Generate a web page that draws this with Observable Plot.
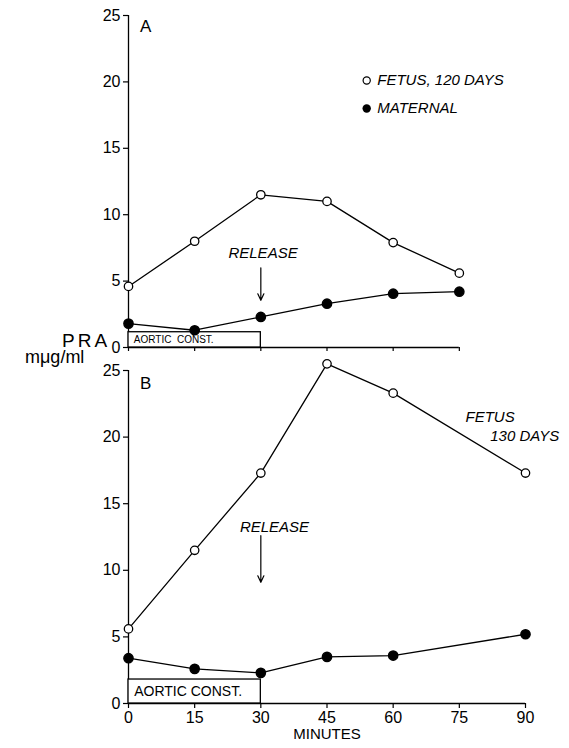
<!DOCTYPE html>
<html>
<head>
<meta charset="utf-8">
<script src="https://cdn.jsdelivr.net/npm/d3@7"></script>
<script src="https://cdn.jsdelivr.net/npm/@observablehq/plot@0.6"></script>
<style>
  body { margin: 0; background: white; }
  #wrap { position: relative; width: 569px; height: 748px; overflow: hidden; }
  #wrap svg { display: block; }
  .lab { position: absolute; font-family: "Liberation Sans", Arial, sans-serif; color: black; white-space: nowrap; line-height: 1; }
</style>
</head>
<body>
<div id="wrap"></div>
<script>
// ---- data ----
const minutesA = [0, 15, 30, 45, 60, 75];
const fetus120 = [4.6, 8.0, 11.5, 11.0, 7.9, 5.6];
const maternalA = [1.8, 1.3, 2.3, 3.3, 4.05, 4.2];

const minutesB = [0, 15, 30, 45, 60, 90];
const fetus130 = [5.6, 11.5, 17.3, 25.5, 23.3, 17.3];
const maternalB = [3.4, 2.6, 2.3, 3.5, 3.6, 5.2];

const yTicks = [0, 5, 10, 15, 20, 25];
const xTicksA = [0, 15, 30, 45, 60, 75];
const xTicksB = [0, 15, 30, 45, 60, 75, 90];

const aorticStart = 0, aorticEnd = 30;   // minutes of aortic constriction
const releaseAt = 30;                    // release time, minutes

const FONT = '"Liberation Sans", Arial, sans-serif';
const W = 569;

function pts(xs, ys) { return xs.map((m, i) => ({ m, v: ys[i] })); }

function seriesMarks(xs, open, filled) {
  return [
    Plot.line(pts(xs, open), { x: "m", y: "v", stroke: "black", strokeWidth: 1.3 }),
    Plot.line(pts(xs, filled), { x: "m", y: "v", stroke: "black", strokeWidth: 1.3 }),
    Plot.dot(pts(xs, open), { x: "m", y: "v", r: 4.2, fill: "white", stroke: "black", strokeWidth: 1.3 }),
    Plot.dot(pts(xs, filled), { x: "m", y: "v", r: 4.6, fill: "black", stroke: "black" })
  ];
}

// ---- Panel A ----
const A = Plot.plot({
  width: W, height: 360,
  marginLeft: 128, marginRight: 44, marginTop: 15, marginBottom: 13,
  x: { domain: [0, 90] },
  y: { domain: [0, 25] },
  style: { fontFamily: FONT, fontSize: "16px", color: "black", background: "white", overflow: "visible" },
  marks: [
    Plot.ruleX([0], { y1: 0, y2: 25, stroke: "black", strokeWidth: 1.3 }),
    Plot.ruleY([0], { x1: 0, x2: 75, stroke: "black", strokeWidth: 1.3 }),
    Plot.axisY(yTicks, { tickSize: 5, tickPadding: 3, strokeWidth: 1.2, label: null }),
    Plot.axisX(xTicksA, { tickSize: 4, tickFormat: () => "", strokeWidth: 1.2, label: null }),
    Plot.rect([0], { x1: aorticStart, x2: aorticEnd, y1: 0, y2: 1.15, fill: "white", stroke: "black", strokeWidth: 1.3 }),
    Plot.text(["AORTIC  CONST."], { x: 1.2, y: 0.55, textAnchor: "start", fontSize: 10 }),
    Plot.text(["RELEASE"], { x: releaseAt + 0.5, y: 7.1, fontStyle: "italic", fontSize: 15, letterSpacing: "1.5px" }),
    Plot.arrow([0], { x1: releaseAt, x2: releaseAt, y1: 6.0, y2: 3.55, stroke: "black", strokeWidth: 1.2, headLength: 9, headAngle: 50 }),
    Plot.text(["A"], { x: 3.9, y: 24.2, fontSize: 17 }),
    Plot.dot([0], { x: 54, y: 20.1, r: 3.6, fill: "white", stroke: "black", strokeWidth: 1.2 }),
    Plot.dot([0], { x: 54, y: 18.0, r: 4.2, fill: "black" }),
    Plot.text(["FETUS, 120 DAYS"], { x: 56.4, y: 20.1, textAnchor: "start", fontStyle: "italic", fontSize: 15, letterSpacing: "1.1px" }),
    Plot.text(["MATERNAL"], { x: 56.4, y: 18.0, textAnchor: "start", fontStyle: "italic", fontSize: 15, letterSpacing: "1.1px" }),
    ...seriesMarks(minutesA, fetus120, maternalA)
  ]
});

// ---- Panel B ----
const B = Plot.plot({
  width: W, height: 388,
  marginLeft: 128, marginRight: 44, marginTop: 10, marginBottom: 45,
  x: { domain: [0, 90] },
  y: { domain: [0, 25] },
  style: { fontFamily: FONT, fontSize: "16px", color: "black", background: "white", overflow: "visible" },
  marks: [
    Plot.ruleX([0], { y1: 0, y2: 25, stroke: "black", strokeWidth: 1.3 }),
    Plot.ruleY([0], { x1: 0, x2: 90, stroke: "black", strokeWidth: 1.3 }),
    Plot.axisY(yTicks, { tickSize: 5, tickPadding: 3, strokeWidth: 1.2, label: null }),
    Plot.axisX(xTicksB, { tickSize: 5, tickPadding: 3, strokeWidth: 1.2, label: null }),
    Plot.rect([0], { x1: aorticStart, x2: aorticEnd, y1: 0, y2: 1.8, fill: "white", stroke: "black", strokeWidth: 1.3 }),
    Plot.text(["AORTIC CONST."], { x: 1.3, y: 0.9, textAnchor: "start", fontSize: 14, letterSpacing: "0.5px" }),
    Plot.text(["RELEASE"], { x: releaseAt + 3.1, y: 13.2, fontStyle: "italic", fontSize: 15, letterSpacing: "1.8px" }),
    Plot.arrow([0], { x1: releaseAt, x2: releaseAt, y1: 12.6, y2: 9.1, stroke: "black", strokeWidth: 1.2, headLength: 9, headAngle: 50 }),
    Plot.text(["B"], { x: 3.9, y: 24.0, fontSize: 17 }),
    Plot.text(["FETUS"], { x: 76.4, y: 21.5, textAnchor: "start", fontStyle: "italic", fontSize: 15, letterSpacing: "2px" }),
    Plot.text(["130 DAYS"], { x: 82.0, y: 20.1, textAnchor: "start", fontStyle: "italic", fontSize: 15, letterSpacing: "1.6px" }),
    Plot.text(["MINUTES"], { frameAnchor: "bottom", dy: 35, fontSize: 15, letterSpacing: "1.5px" }),
    ...seriesMarks(minutesB, fetus130, maternalB)
  ]
});

const wrap = document.getElementById("wrap");
wrap.appendChild(A);
wrap.appendChild(B);

const pra = document.createElement("div");
pra.className = "lab";
pra.style.left = "62px"; pra.style.top = "331px"; pra.style.fontSize = "19px"; pra.style.letterSpacing = "3px";
pra.textContent = "PRA";
wrap.appendChild(pra);

const unit = document.createElement("div");
unit.className = "lab";
unit.style.left = "25px"; unit.style.top = "348px"; unit.style.fontSize = "18px";
unit.textContent = "mμg/ml";
wrap.appendChild(unit);
</script>
</body>
</html>
